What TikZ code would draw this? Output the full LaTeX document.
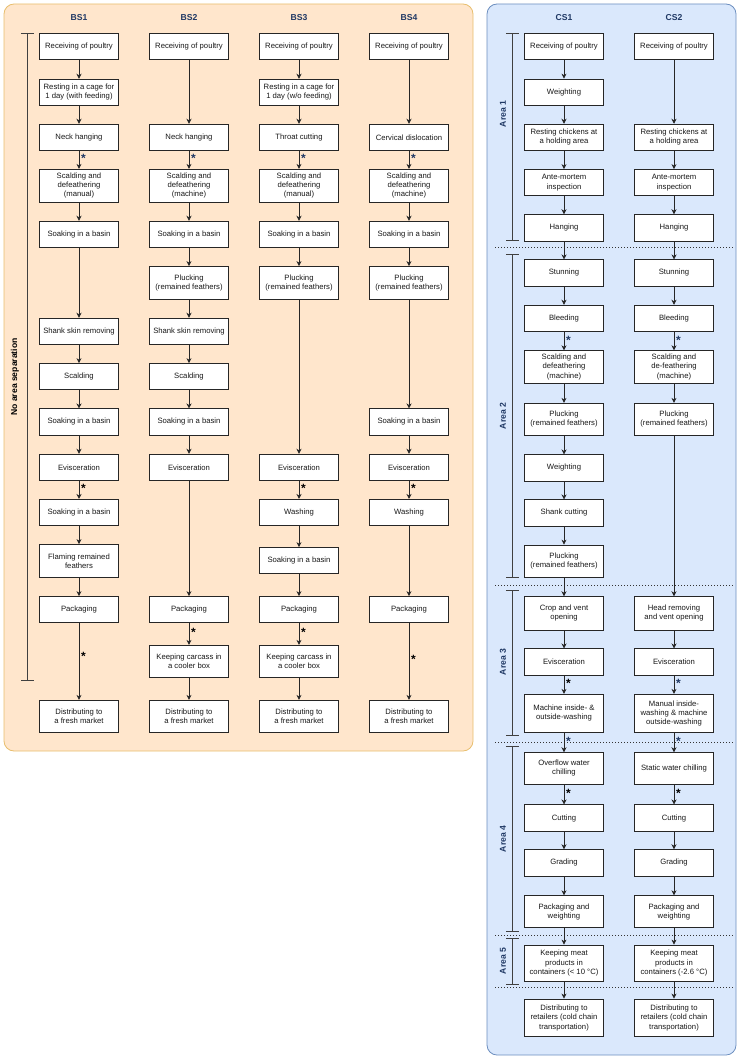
\documentclass[tikz,border=0pt]{standalone}
\usepackage{fontspec}
\setmainfont{Liberation Sans}
\usetikzlibrary{arrows.meta}

\definecolor{panelO}{RGB}{255,230,204}
\definecolor{edgeO}{RGB}{232,190,110}
\definecolor{panelB}{RGB}{218,232,252}
\definecolor{edgeB}{RGB}{108,142,191}
\definecolor{navy}{RGB}{31,56,100}

\begin{document}
\begin{tikzpicture}[x=1pt,y=-1pt,
  proc/.style ={draw=black!85, fill=white, line width=0.75pt, minimum width=78.3, minimum height=26.3,
                inner sep=1pt, align=center, text=black!90, font=\fontsize{7.7}{9.2}\selectfont},
  tall/.style ={minimum height=#1},
  flow/.style ={draw=black!85, line width=0.75pt, -{Stealth[length=5pt,width=5pt,inset=1.5pt]}},
  ast/.style  ={right, inner sep=1pt, xshift=0.8pt, yshift=-2.5pt, text=#1, font=\fontsize{12}{12}\bfseries},
  head/.style ={text=navy, font=\fontsize{8.6}{10}\bfseries},
  area/.style ={rotate=90, text=navy, font=\fontsize{8.6}{10}\bfseries},
  brk/.style  ={draw=black!75, line width=0.75pt, {Bar[width=13pt]}-{Bar[width=13pt]}},
  sep/.style  ={draw=black!80, line width=1pt, dash pattern=on 1pt off 2pt}]

  \useasboundingbox (0,0) rectangle (740,1059);

  % panels
  \draw[fill=panelO, draw=edgeO, line width=0.8pt, rounded corners=10] (4,4) rectangle (473,751);
  \draw[fill=panelB, draw=edgeB, line width=0.8pt, rounded corners=10] (487,4) rectangle (736,1055);

  % column headers
  \foreach \n/\x in {BS1/79,BS2/189,BS3/299,BS4/409,CS1/564,CS2/674}
    \node[head] (h\n) at (\x,17.3) {\n};

  % area brackets
  \draw[brk] (27.3,33.3) -- (27.3,681);
  \node[area, text=black] (noarea) at (15,377) {No area separation};
  \draw[brk] (512.3,33.3) -- (512.3,240.7);  \node[area] (ar1) at (503,114) {Area 1};
  \draw[brk] (512.3,254)  -- (512.3,577.5);  \node[area] (ar2) at (503,416) {Area 2};
  \draw[brk] (512.3,590)  -- (512.3,735.7);  \node[area] (ar3) at (503,662) {Area 3};
  \draw[brk] (512.3,746)  -- (512.3,931.7);  \node[area] (ar4) at (503,839) {Area 4};
  \draw[brk] (512.3,938.3) -- (512.3,984.3); \node[area] (ar5) at (503,961) {Area 5};

  % area separators
  \foreach \y in {247.7,585,742.7,935,987.7}
    \draw[sep] (495,\y) -- (733,\y);

  % ---- BS1 ----
  \node[proc] (b1a) at (79,46.7)  {Receiving of poultry};
  \node[proc] (b1b) at (79,92.3)  {Resting in a cage for\\1 day (with feeding)};
  \node[proc] (b1c) at (79,137.3) {Neck hanging};
  \node[proc,tall=33] (b1d) at (79,185.8) {Scalding and\\defeathering\\(manual)};
  \node[proc] (b1e) at (79,234.3) {Soaking in a basin};
  \node[proc] (b1g) at (79,331.3) {Shank skin removing};
  \node[proc] (b1h) at (79,376.7) {Scalding};
  \node[proc] (b1i) at (79,422)   {Soaking in a basin};
  \node[proc] (b1j) at (79,467.3) {Evisceration};
  \node[proc] (b1k) at (79,512.5) {Soaking in a basin};
  \node[proc,tall=33] (b1l) at (79,561) {Flaming remained\\feathers};
  \node[proc] (b1m) at (79,609.7) {Packaging};
  \node[proc,tall=32] (b1o) at (79,716.3) {Distributing to\\a fresh market};

  % ---- BS2 ----
  \node[proc] (b2a) at (189,46.7)  {Receiving of poultry};
  \node[proc] (b2c) at (189,137.3) {Neck hanging};
  \node[proc,tall=33] (b2d) at (189,185.8) {Scalding and\\defeathering\\(machine)};
  \node[proc] (b2e) at (189,234.3) {Soaking in a basin};
  \node[proc,tall=33] (b2f) at (189,283) {Plucking\\(remained feathers)};
  \node[proc] (b2g) at (189,331.3) {Shank skin removing};
  \node[proc] (b2h) at (189,376.7) {Scalding};
  \node[proc] (b2i) at (189,422)   {Soaking in a basin};
  \node[proc] (b2j) at (189,467.3) {Evisceration};
  \node[proc] (b2m) at (189,609.7) {Packaging};
  \node[proc,tall=32] (b2n) at (189,661.3) {Keeping carcass in\\a cooler box};
  \node[proc,tall=32] (b2o) at (189,716.3) {Distributing to\\a fresh market};

  % ---- BS3 ----
  \node[proc] (b3a) at (299,46.7)  {Receiving of poultry};
  \node[proc] (b3b) at (299,92.3)  {Resting in a cage for\\1 day (w/o feeding)};
  \node[proc] (b3c) at (299,137.3) {Throat cutting};
  \node[proc,tall=33] (b3d) at (299,185.8) {Scalding and\\defeathering\\(manual)};
  \node[proc] (b3e) at (299,234.3) {Soaking in a basin};
  \node[proc,tall=33] (b3f) at (299,283) {Plucking\\(remained feathers)};
  \node[proc] (b3j) at (299,467.3) {Evisceration};
  \node[proc] (b3k) at (299,512.5) {Washing};
  \node[proc] (b3l) at (299,560.7) {Soaking in a basin};
  \node[proc] (b3m) at (299,609.7) {Packaging};
  \node[proc,tall=32] (b3n) at (299,661.3) {Keeping carcass in\\a cooler box};
  \node[proc,tall=32] (b3o) at (299,716.3) {Distributing to\\a fresh market};

  % ---- BS4 ----
  \node[proc] (b4a) at (409,46.7)  {Receiving of poultry};
  \node[proc] (b4c) at (409,137.3) {Cervical dislocation};
  \node[proc,tall=33] (b4d) at (409,185.8) {Scalding and\\defeathering\\(machine)};
  \node[proc] (b4e) at (409,234.3) {Soaking in a basin};
  \node[proc,tall=33] (b4f) at (409,283) {Plucking\\(remained feathers)};
  \node[proc] (b4i) at (409,422)   {Soaking in a basin};
  \node[proc] (b4j) at (409,467.3) {Evisceration};
  \node[proc] (b4k) at (409,512.5) {Washing};
  \node[proc] (b4m) at (409,609.7) {Packaging};
  \node[proc,tall=32] (b4o) at (409,716.3) {Distributing to\\a fresh market};

  % ---- CS1 ----
  \node[proc] (c1a) at (564,46.7)  {Receiving of poultry};
  \node[proc] (c1b) at (564,92.2)  {Weighting};
  \node[proc] (c1c) at (564,137.3) {Resting chickens at\\a holding area};
  \node[proc] (c1d) at (564,182.7) {Ante-mortem\\inspection};
  \node[proc] (c1e) at (564,227.8) {Hanging};
  \node[proc] (c1f) at (564,273)   {Stunning};
  \node[proc] (c1g) at (564,318.3) {Bleeding};
  \node[proc,tall=32.6] (c1h) at (564,367) {Scalding and\\defeathering\\(machine)};
  \node[proc,tall=32] (c1i) at (564,419.3) {Plucking\\(remained feathers)};
  \node[proc] (c1j) at (564,468)   {Weighting};
  \node[proc] (c1k) at (564,513)   {Shank cutting};
  \node[proc,tall=32.3] (c1l) at (564,561.2) {Plucking\\(remained feathers)};
  \node[proc,tall=33.3] (c1m) at (564,613.3) {Crop and vent\\opening};
  \node[proc] (c1n) at (564,662)   {Evisceration};
  \node[proc,tall=38] (c1o) at (564,713.3) {Machine inside- \&\\outside-washing};
  \node[proc,tall=31.3] (c1p) at (564,768.3) {Overflow water\\chilling};
  \node[proc] (c1q) at (564,818)   {Cutting};
  \node[proc] (c1r) at (564,862.8) {Grading};
  \node[proc,tall=32] (c1s) at (564,911.7) {Packaging and\\weighting};
  \node[proc,tall=36] (c1t) at (564,963) {Keeping meat\\products in\\containers (< 10 °C)};
  \node[proc,tall=37.7] (c1u) at (564,1017.8) {Distributing to\\retailers (cold chain\\transportation)};

  % ---- CS2 ----
  \node[proc] (c2a) at (674,46.7)  {Receiving of poultry};
  \node[proc] (c2c) at (674,137.3) {Resting chickens at\\a holding area};
  \node[proc] (c2d) at (674,182.7) {Ante-mortem\\inspection};
  \node[proc] (c2e) at (674,227.8) {Hanging};
  \node[proc] (c2f) at (674,273)   {Stunning};
  \node[proc] (c2g) at (674,318.3) {Bleeding};
  \node[proc,tall=32.6] (c2h) at (674,367) {Scalding and\\de-feathering\\(machine)};
  \node[proc,tall=32] (c2i) at (674,419.3) {Plucking\\(remained feathers)};
  \node[proc,tall=33.3] (c2m) at (674,613.3) {Head removing\\and vent opening};
  \node[proc] (c2n) at (674,662)   {Evisceration};
  \node[proc,tall=38] (c2o) at (674,713.3) {Manual inside-\\washing \& machine\\outside-washing};
  \node[proc,tall=31.3] (c2p) at (674,768.3) {Static water chilling};
  \node[proc] (c2q) at (674,818)   {Cutting};
  \node[proc] (c2r) at (674,862.8) {Grading};
  \node[proc,tall=32] (c2s) at (674,911.7) {Packaging and\\weighting};
  \node[proc,tall=36] (c2t) at (674,963) {Keeping meat\\products in\\containers (-2.6 °C)};
  \node[proc,tall=37.7] (c2u) at (674,1017.8) {Distributing to\\retailers (cold chain\\transportation)};

  % plain flows
  \foreach \u/\v in {b1a/b1b,b1b/b1c,b1d/b1e,b1e/b1g,b1g/b1h,b1h/b1i,b1i/b1j,b1k/b1l,b1l/b1m,
                     b2a/b2c,b2d/b2e,b2e/b2f,b2f/b2g,b2g/b2h,b2h/b2i,b2i/b2j,b2j/b2m,b2n/b2o,
                     b3a/b3b,b3b/b3c,b3d/b3e,b3e/b3f,b3f/b3j,b3k/b3l,b3l/b3m,b3n/b3o,
                     b4a/b4c,b4d/b4e,b4e/b4f,b4f/b4i,b4i/b4j,b4k/b4m,
                     c1a/c1b,c1b/c1c,c1c/c1d,c1d/c1e,c1e/c1f,c1f/c1g,c1h/c1i,c1i/c1j,c1j/c1k,
                     c1k/c1l,c1l/c1m,c1m/c1n,c1q/c1r,c1r/c1s,c1s/c1t,c1t/c1u,
                     c2a/c2c,c2c/c2d,c2d/c2e,c2e/c2f,c2f/c2g,c2h/c2i,c2i/c2m,c2m/c2n,
                     c2q/c2r,c2r/c2s,c2s/c2t,c2t/c2u}
    \draw[flow] (\u) -- (\v);

  % flows marked with *
  \foreach \u/\v/\c/\p in {b1c/b1d/navy/0.3,b2c/b2d/navy/0.3,b3c/b3d/navy/0.3,b4c/b4d/navy/0.3,
                           b1j/b1k/black/0.3,b3j/b3k/black/0.3,b4j/b4k/black/0.3,
                           b1m/b1o/black/0.4,b4m/b4o/black/0.44,b2m/b2n/black/0.3,b3m/b3n/black/0.3,
                           c1g/c1h/navy/0.3,c2g/c2h/navy/0.3,c1n/c1o/black/0.3,c2n/c2o/navy/0.3,
                           c1o/c1p/navy/0.3,c2o/c2p/navy/0.3,c1p/c1q/black/0.3,c2p/c2q/black/0.3}
    \draw[flow] (\u) -- node[ast=\c, pos=\p] {*} (\v);
\end{tikzpicture}
\end{document}
